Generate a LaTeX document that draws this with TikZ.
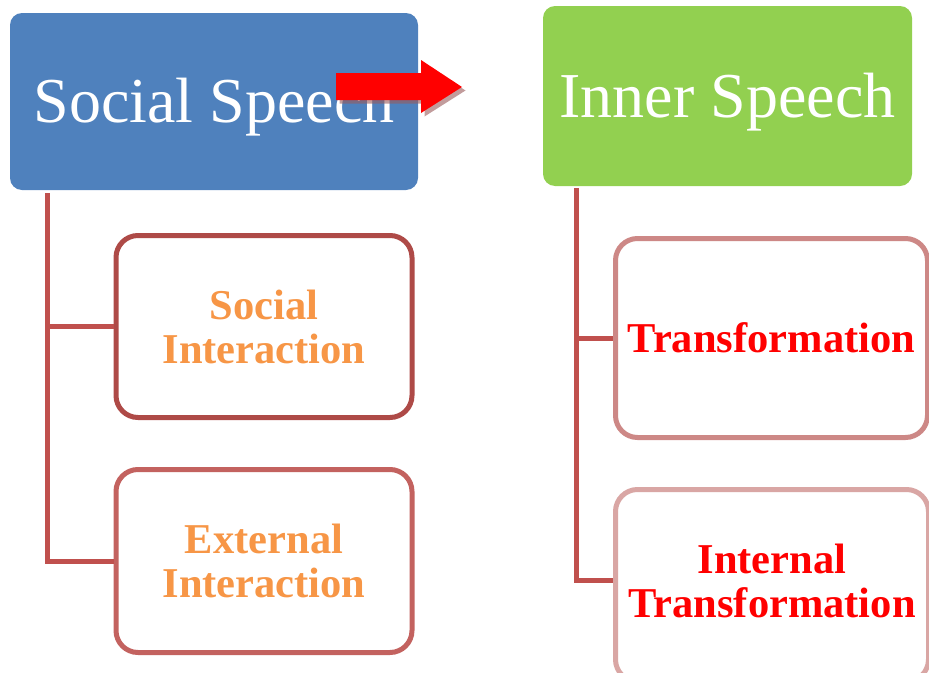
\documentclass[tikz,border=0pt]{standalone}
\usepackage{fontspec}
\setmainfont{Liberation Serif}
\definecolor{headblue}{HTML}{4F81BD}
\definecolor{headgreen}{HTML}{92D050}
\definecolor{branch}{HTML}{C0504D}
\definecolor{edgeA}{HTML}{AE4A47}
\definecolor{edgeB}{HTML}{C3625F}
\definecolor{edgeC}{HTML}{CD8886}
\definecolor{edgeD}{HTML}{D9A6A4}
\definecolor{txtorange}{HTML}{F79646}
\definecolor{txtred}{HTML}{FF0000}
\definecolor{arrowshade}{HTML}{9A5A5A}
\tikzset{
  headbox/.style={rectangle, rounded corners=12pt, draw=none, inner sep=0pt,
    text=white, font=\fontsize{64}{70}\selectfont, text height=42pt, text depth=0pt},
  subfont/.style={align=center, font=\bfseries\fontsize{42.5}{44}\selectfont},
  subbox/.style={rectangle, rounded corners=22pt, line width=5pt, fill=white,
    inner sep=0pt, subfont},
  branchline/.style={draw=branch, line width=5pt}
}
\begin{document}
\begin{tikzpicture}[x=1pt,y=-1pt]
\useasboundingbox (0,0) rectangle (929,672);
\clip (0,0) rectangle (929,672);
% heading boxes
\node[headbox, fill=headblue, minimum width=408pt, minimum height=177pt] (social) at (214,101.5) {Social Speech};
\node[headbox, fill=headgreen, minimum width=369pt, minimum height=180pt] (inner) at (727.5,96) {Inner Speech};
% child boxes
\node[subbox, draw=edgeA, text=txtorange, minimum width=296pt, minimum height=182pt] (sint) at (264,326.5) {Social\\Interaction};
\node[subbox, draw=edgeB, text=txtorange, minimum width=296pt, minimum height=183pt] (eint) at (264,561) {External\\Interaction};
\node[subbox, draw=edgeC, text=txtred, minimum width=312pt, minimum height=199pt] (trans) at (771.5,338) {Transformation};
\node[subbox, draw=edgeD, minimum width=313pt, minimum height=192pt] (itrans) at (772,585.5) {};
\node[subfont, text=txtred, inner sep=0pt] (itranstext) at ([yshift=5pt]itrans.center) {Internal\\Transformation};
% tree connectors
\draw[branchline] ([xshift=38pt,yshift=-3pt]social.south west) |- (sint.west);
\draw[branchline] ([xshift=38pt,yshift=-3pt]social.south west) |- (eint.west);
\draw[branchline] ([xshift=34pt,yshift=-2pt]inner.south west) |- (trans.west);
\draw[branchline] ([xshift=34pt,yshift=-2pt]inner.south west) |- ([yshift=5pt]itrans.west);
% block arrow with drop shadow
\fill[arrowshade, opacity=0.6, shift={(3.5pt,-3.5pt)}]
  (336,73) -- (421,73) -- (421,60) -- (462,87) -- (421,113) -- (421,100) -- (336,100) -- cycle;
\fill[red]
  (336,73) -- (421,73) -- (421,60) -- (462,87) -- (421,113) -- (421,100) -- (336,100) -- cycle;
\end{tikzpicture}
\end{document}
